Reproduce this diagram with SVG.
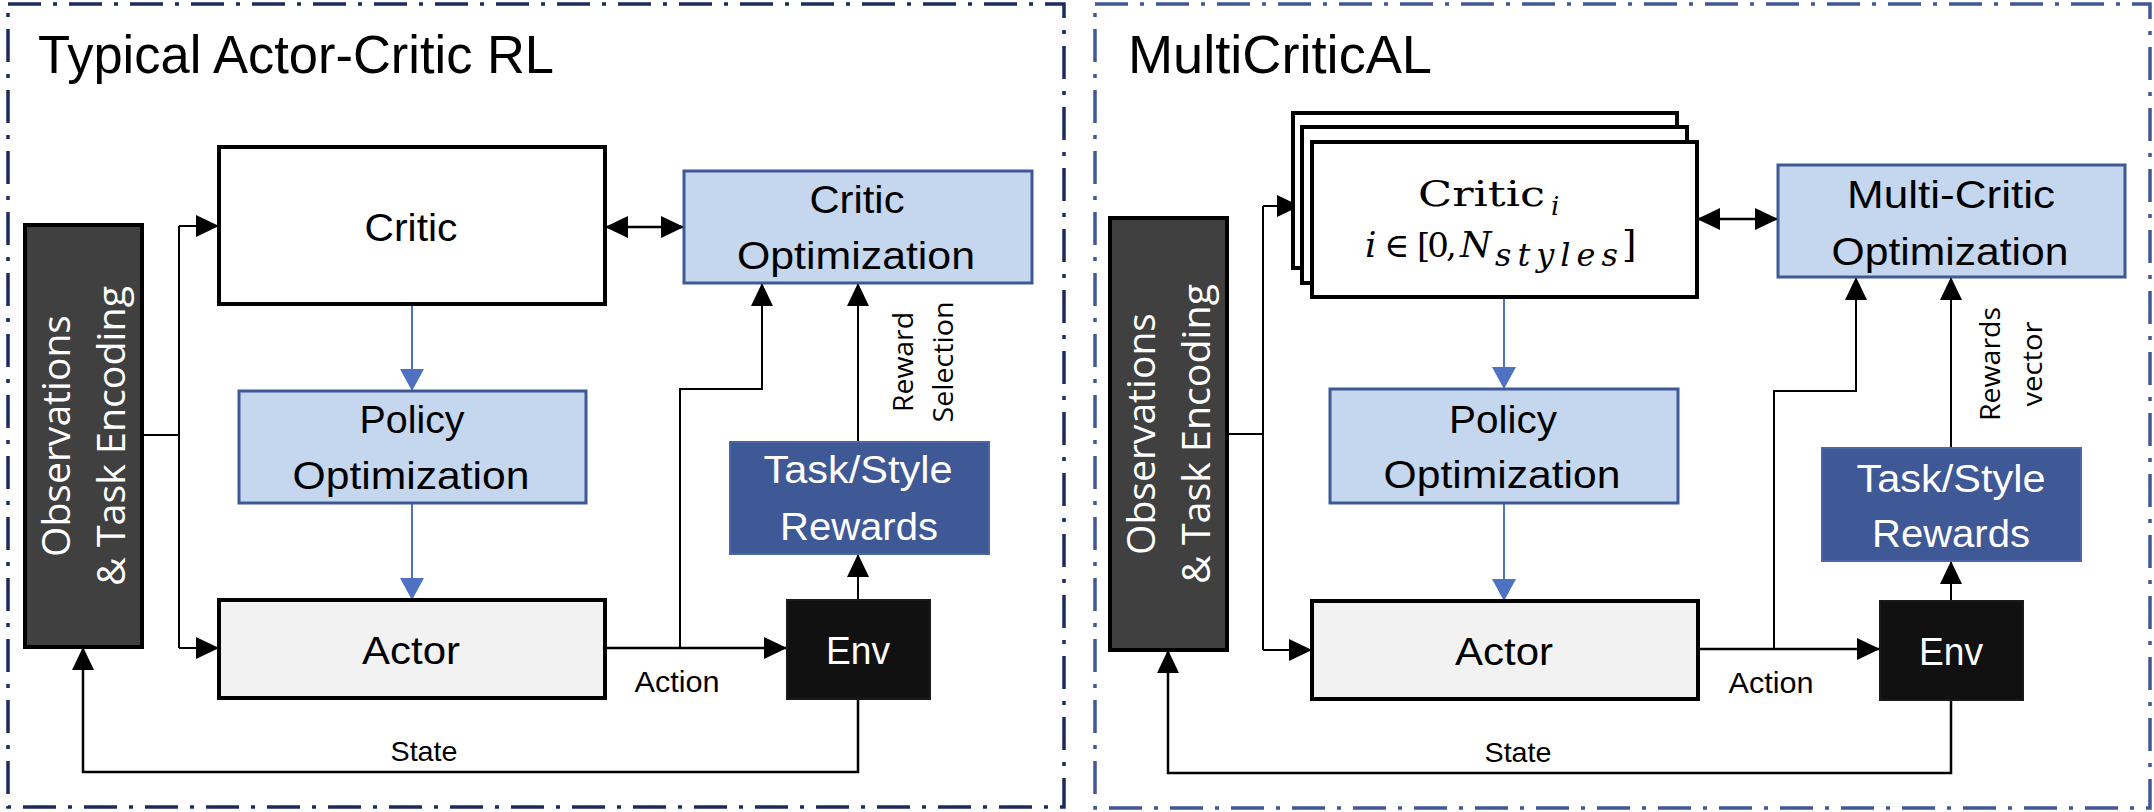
<svg xmlns="http://www.w3.org/2000/svg" width="2154" height="812" viewBox="0 0 2154 812">
<defs>
<style>
.frameL{fill:none;stroke:#1C2B5E;stroke-width:3.5;stroke-dasharray:33 12 4 12}
.frameR{fill:none;stroke:#3F5896;stroke-width:3.5;stroke-dasharray:33 12 4 12}
.lbl{font-family:"Liberation Sans",Arial,sans-serif;fill:#000}
.mid{text-anchor:middle}
.white{fill:#fff}
.rot{font-family:"Open Sans","DejaVu Sans",sans-serif;text-anchor:middle}
.math{font-family:"DejaVu Serif","Liberation Serif",serif;fill:#000}
.critic{fill:#fff;stroke:#000;stroke-width:4}
.actor{fill:#F2F2F2;stroke:#000;stroke-width:4}
.opt{fill:#C5D7EF;stroke:#3F5896;stroke-width:3}
.task{fill:#3F5896;stroke:#4D66A5;stroke-width:2}
.obs{fill:#404040;stroke:#000;stroke-width:4}
.env{fill:#111;stroke:#1a1a1a;stroke-width:2}
.ln{fill:none;stroke:#000;stroke-width:2.5}
.thin{fill:none;stroke:#000;stroke-width:2}
.blue{fill:none;stroke:#4E71C2;stroke-width:2}
</style>
<marker id="ah" markerUnits="userSpaceOnUse" markerWidth="23" markerHeight="22" refX="23" refY="11" orient="auto-start-reverse"><path d="M0,0 L23,11 L0,22 z" fill="#000"/></marker>
<marker id="ahb" markerUnits="userSpaceOnUse" markerWidth="22" markerHeight="24" refX="22" refY="12" orient="auto"><path d="M0,0 L22,12 L0,24 z" fill="#4E71C2"/></marker>
</defs>

<!-- frames -->
<rect class="frameL" x="8" y="4" width="1056" height="803"/>
<rect class="frameR" x="1095" y="4" width="1055" height="804"/>

<!-- titles -->
<text class="lbl" x="38" y="73" font-size="53" textLength="516" lengthAdjust="spacingAndGlyphs">Typical Actor-Critic RL</text>
<text class="lbl" x="1128" y="73" font-size="53" textLength="304" lengthAdjust="spacingAndGlyphs">MultiCriticAL</text>

<!-- connectors -->
<g id="connectors">
  <!-- left panel -->
  <path class="thin" d="M142,435 H179 M179,226 V648"/>
  <path class="thin" d="M179,226 H219" marker-end="url(#ah)"/>
  <path class="thin" d="M179,648 H219" marker-end="url(#ah)"/>
  <path class="ln" d="M605,227 H684" marker-start="url(#ah)" marker-end="url(#ah)"/>
  <path class="blue" d="M412,304 V391" marker-end="url(#ahb)"/>
  <path class="blue" d="M412,503 V600" marker-end="url(#ahb)"/>
  <path class="ln" d="M605,648 H787" marker-end="url(#ah)"/>
  <path class="thin" d="M680,648 V389 H762 V283" marker-end="url(#ah)"/>
  <path class="thin" d="M858,600 V554" marker-end="url(#ah)"/>
  <path class="thin" d="M858,442 V283" marker-end="url(#ah)"/>
  <path class="ln" d="M858,699 V772 H83 V647" marker-end="url(#ah)"/>
  <!-- right panel -->
  <path class="thin" d="M1227,434 H1263 M1263,206 V650"/>
  <path class="thin" d="M1263,206 H1300" marker-end="url(#ah)"/>
  <path class="thin" d="M1263,650 H1312" marker-end="url(#ah)"/>
  <path class="ln" d="M1697,219 H1778" marker-start="url(#ah)" marker-end="url(#ah)"/>
  <path class="blue" d="M1504,297 V389" marker-end="url(#ahb)"/>
  <path class="blue" d="M1504,503 V601" marker-end="url(#ahb)"/>
  <path class="ln" d="M1698,649 H1880" marker-end="url(#ah)"/>
  <path class="thin" d="M1774,649 V391 H1856 V277" marker-end="url(#ah)"/>
  <path class="thin" d="M1951,601 V561" marker-end="url(#ah)"/>
  <path class="thin" d="M1951,448 V277" marker-end="url(#ah)"/>
  <path class="ln" d="M1951,700 V773 H1168 V650" marker-end="url(#ah)"/>
</g>

<!-- connector labels -->
<text class="lbl mid" x="677" y="692" font-size="29" textLength="85" lengthAdjust="spacingAndGlyphs">Action</text>
<text class="lbl mid" x="424" y="761" font-size="28" textLength="67" lengthAdjust="spacingAndGlyphs">State</text>
<g transform="translate(0,362) rotate(-90)">
  <text class="rot" x="0" y="913" font-size="28" textLength="100" lengthAdjust="spacingAndGlyphs">Reward</text>
  <text class="rot" x="0" y="953" font-size="28" textLength="121" lengthAdjust="spacingAndGlyphs">Selection</text>
</g>
<text class="lbl mid" x="1771" y="693" font-size="29" textLength="85" lengthAdjust="spacingAndGlyphs">Action</text>
<text class="lbl mid" x="1518" y="762" font-size="28" textLength="67" lengthAdjust="spacingAndGlyphs">State</text>
<g transform="translate(0,364) rotate(-90)">
  <text class="rot" x="0" y="2000" font-size="28" textLength="114" lengthAdjust="spacingAndGlyphs">Rewards</text>
  <text class="rot" x="0" y="2042" font-size="28" textLength="85" lengthAdjust="spacingAndGlyphs">vector</text>
</g>

<!-- LEFT PANEL NODES -->
<g id="obs-left">
  <rect class="obs" x="25" y="225" width="117" height="422"/>
  <g transform="translate(0,436) rotate(-90)">
    <text class="rot white" x="0" y="70" font-size="39" textLength="242" lengthAdjust="spacingAndGlyphs">Observations</text>
    <text class="rot white" x="0" y="125" font-size="39" textLength="300" lengthAdjust="spacingAndGlyphs">&amp; Task Encoding</text>
  </g>
</g>
<g id="critic-left">
  <rect class="critic" x="219" y="147" width="386" height="157"/>
  <text class="lbl mid" x="411" y="241" font-size="38" textLength="93" lengthAdjust="spacingAndGlyphs">Critic</text>
</g>
<g id="criticopt-left">
  <rect class="opt" x="684" y="171" width="348" height="112"/>
  <text class="lbl mid" x="857" y="213" font-size="38" textLength="95" lengthAdjust="spacingAndGlyphs">Critic</text>
  <text class="lbl mid" x="856" y="269" font-size="38" textLength="238" lengthAdjust="spacingAndGlyphs">Optimization</text>
</g>
<g id="policy-left">
  <rect class="opt" x="239" y="391" width="347" height="112"/>
  <text class="lbl mid" x="412" y="433" font-size="38" textLength="105" lengthAdjust="spacingAndGlyphs">Policy</text>
  <text class="lbl mid" x="411" y="489" font-size="38" textLength="237" lengthAdjust="spacingAndGlyphs">Optimization</text>
</g>
<g id="actor-left">
  <rect class="actor" x="219" y="600" width="386" height="98"/>
  <text class="lbl mid" x="411" y="664" font-size="38" textLength="98" lengthAdjust="spacingAndGlyphs">Actor</text>
</g>
<g id="env-left">
  <rect class="env" x="787" y="600" width="143" height="99"/>
  <text class="lbl mid white" x="858" y="664" font-size="38" textLength="64" lengthAdjust="spacingAndGlyphs">Env</text>
</g>
<g id="task-left">
  <rect class="task" x="730" y="442" width="259" height="112"/>
  <text class="lbl mid white" x="858" y="483" font-size="38" textLength="189" lengthAdjust="spacingAndGlyphs">Task/Style</text>
  <text class="lbl mid white" x="859" y="540" font-size="38" textLength="158" lengthAdjust="spacingAndGlyphs">Rewards</text>
</g>

<!-- RIGHT PANEL NODES -->
<g id="obs-right">
  <rect class="obs" x="1110" y="218" width="117" height="432"/>
  <g transform="translate(0,434) rotate(-90)">
    <text class="rot white" x="0" y="1155" font-size="39" textLength="242" lengthAdjust="spacingAndGlyphs">Observations</text>
    <text class="rot white" x="0" y="1210" font-size="39" textLength="300" lengthAdjust="spacingAndGlyphs">&amp; Task Encoding</text>
  </g>
</g>
<g id="critics-right">
  <rect class="critic" x="1293" y="113" width="384" height="155"/>
  <rect class="critic" x="1302" y="127" width="385" height="156"/>
  <rect class="critic" x="1312" y="142" width="385" height="155"/>
  <text class="math" x="1418" y="206" font-size="36" textLength="127" lengthAdjust="spacingAndGlyphs">Critic</text>
  <text class="math" x="1551" y="215" font-size="26" font-style="italic">i</text>
  <text class="math" y="257" font-size="36"><tspan x="1365" font-style="italic">i</tspan><tspan x="1384" font-size="34">∈</tspan><tspan x="1417" font-size="34" letter-spacing="-3">[0,</tspan><tspan x="1460" font-style="italic">N</tspan><tspan x="1495" y="266" font-size="32" font-style="italic" letter-spacing="6">styles</tspan><tspan x="1622" y="257" font-size="37">]</tspan></text>
</g>
<g id="multicriticopt-right">
  <rect class="opt" x="1778" y="165" width="347" height="112"/>
  <text class="lbl mid" x="1951" y="208" font-size="38" textLength="208" lengthAdjust="spacingAndGlyphs">Multi-Critic</text>
  <text class="lbl mid" x="1950" y="265" font-size="38" textLength="237" lengthAdjust="spacingAndGlyphs">Optimization</text>
</g>
<g id="policy-right">
  <rect class="opt" x="1330" y="389" width="348" height="114"/>
  <text class="lbl mid" x="1503" y="433" font-size="38" textLength="108" lengthAdjust="spacingAndGlyphs">Policy</text>
  <text class="lbl mid" x="1502" y="488" font-size="38" textLength="237" lengthAdjust="spacingAndGlyphs">Optimization</text>
</g>
<g id="actor-right">
  <rect class="actor" x="1312" y="601" width="386" height="98"/>
  <text class="lbl mid" x="1504" y="665" font-size="38" textLength="98" lengthAdjust="spacingAndGlyphs">Actor</text>
</g>
<g id="env-right">
  <rect class="env" x="1880" y="601" width="143" height="99"/>
  <text class="lbl mid white" x="1951" y="665" font-size="38" textLength="64" lengthAdjust="spacingAndGlyphs">Env</text>
</g>
<g id="task-right">
  <rect class="task" x="1822" y="448" width="259" height="113"/>
  <text class="lbl mid white" x="1951" y="492" font-size="38" textLength="189" lengthAdjust="spacingAndGlyphs">Task/Style</text>
  <text class="lbl mid white" x="1951" y="547" font-size="38" textLength="158" lengthAdjust="spacingAndGlyphs">Rewards</text>
</g>
</svg>
